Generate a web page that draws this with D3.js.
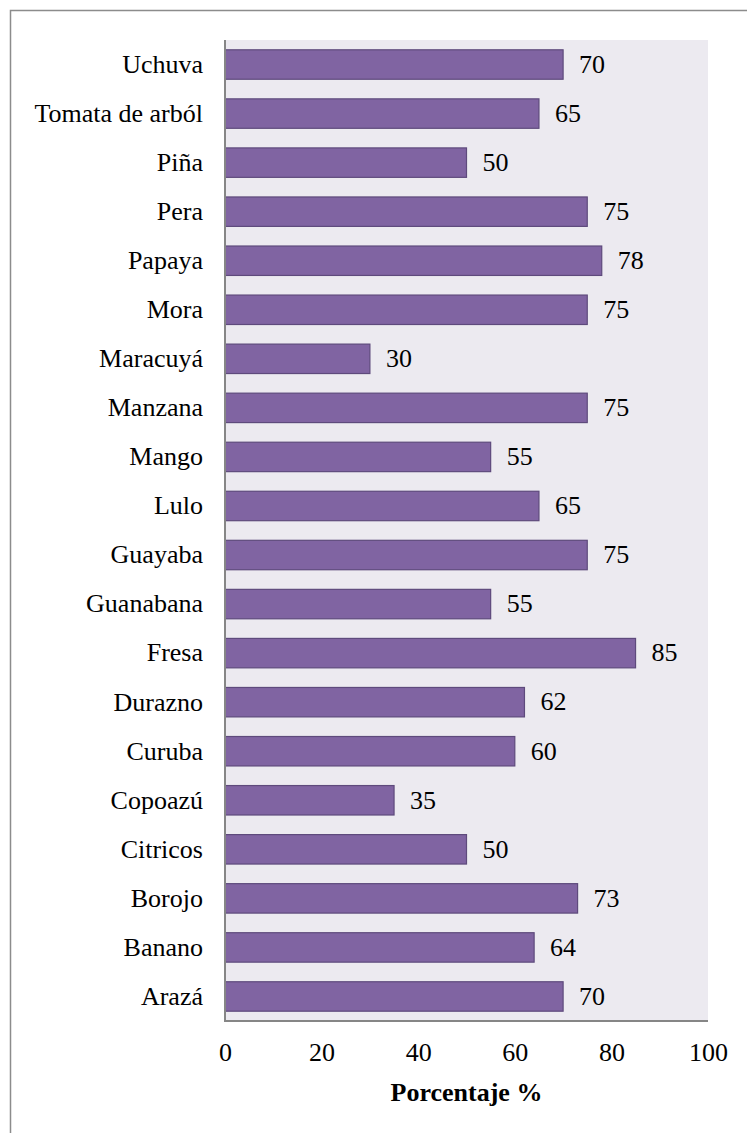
<!DOCTYPE html>
<html><head><meta charset="utf-8">
<script src="https://cdn.jsdelivr.net/npm/d3@7/dist/d3.min.js"></script>
<style>body{margin:0;background:#fff}svg{display:block}
svg text{font-family:"Times New Roman","Liberation Serif","DejaVu Serif",serif;}</style>
</head><body>
<script>
const categories = ["Uchuva","Tomata de arból","Piña","Pera","Papaya","Mora","Maracuyá","Manzana","Mango","Lulo","Guayaba","Guanabana","Fresa","Durazno","Curuba","Copoazú","Citricos","Borojo","Banano","Arazá"];
const values = [70,65,50,75,78,75,30,75,55,65,75,55,85,62,60,35,50,73,64,70];
const xTicks = [0,20,40,60,80,100];
const axisTitle = "Porcentaje %";

(function(){
const W = 747, H = 1133;
const svg = d3.select("body").append("svg").attr("width", W).attr("height", H);
const fs = 26;

// outer frame
svg.append("path").attr("d", `M10.5,${H} V10.5 H${W}`).attr("fill","none").attr("stroke","#8c8c8c").attr("stroke-width",1.5);

const pL = 225, pR = 708, pT = 40, pB = 1021;
const x = d3.scaleLinear().domain([0,100]).range([pL,pR]);
const y = d3.scaleBand().domain(categories).range([pT,pB]).paddingInner(0.4).paddingOuter(0.2);

svg.append("rect").attr("x",pL).attr("y",pT).attr("width",pR-pL).attr("height",pB-pT).attr("fill","#ECEAF0");

const data = categories.map((c,i)=>({c, v: values[i]}));

svg.selectAll("rect.bar").data(data).join("rect").attr("class","bar")
  .attr("x", x(0)).attr("y", d=>y(d.c)).attr("width", d=>x(d.v)-x(0)).attr("height", y.bandwidth())
  .attr("fill","#8064A2").attr("stroke","#5E4A7C").attr("stroke-width",1.2);

svg.selectAll("text.val").data(data).join("text").attr("class","val")
  .attr("x", d=>x(d.v)+16).attr("y", d=>y(d.c)+y.bandwidth()/2).attr("dy","0.32em")
  .style("font-size",fs+"px").attr("fill","#000").text(d=>d.v);

// y axis
const yAxis = d3.axisLeft(y).tickSize(0).tickPadding(22);
const yg = svg.append("g").attr("transform",`translate(${pL},0)`).call(yAxis);
yg.attr("font-family",null).attr("font-size",null);
yg.select(".domain").remove();
yg.selectAll("text").style("font-size",fs+"px").attr("fill","#000").attr("dy","0.32em");

// x axis
const xAxis = d3.axisBottom(x).tickValues(xTicks).tickSize(0).tickPadding(22);
const xg = svg.append("g").attr("transform",`translate(0,${pB})`).call(xAxis);
xg.attr("font-family",null).attr("font-size",null);
xg.select(".domain").remove();
xg.selectAll("text").style("font-size",fs+"px").attr("fill","#000").attr("dy","0.71em");

// axis lines
svg.append("path").attr("d",`M${pL},${pT} V${pB} H${pR}`).attr("fill","none").attr("stroke","#868686").attr("stroke-width",2);

svg.append("text").attr("x",(pL+pR)/2).attr("y",1101).attr("text-anchor","middle")
  .style("font-size",fs+"px").attr("font-weight","bold").text(axisTitle);
})();
</script>
</body></html>
